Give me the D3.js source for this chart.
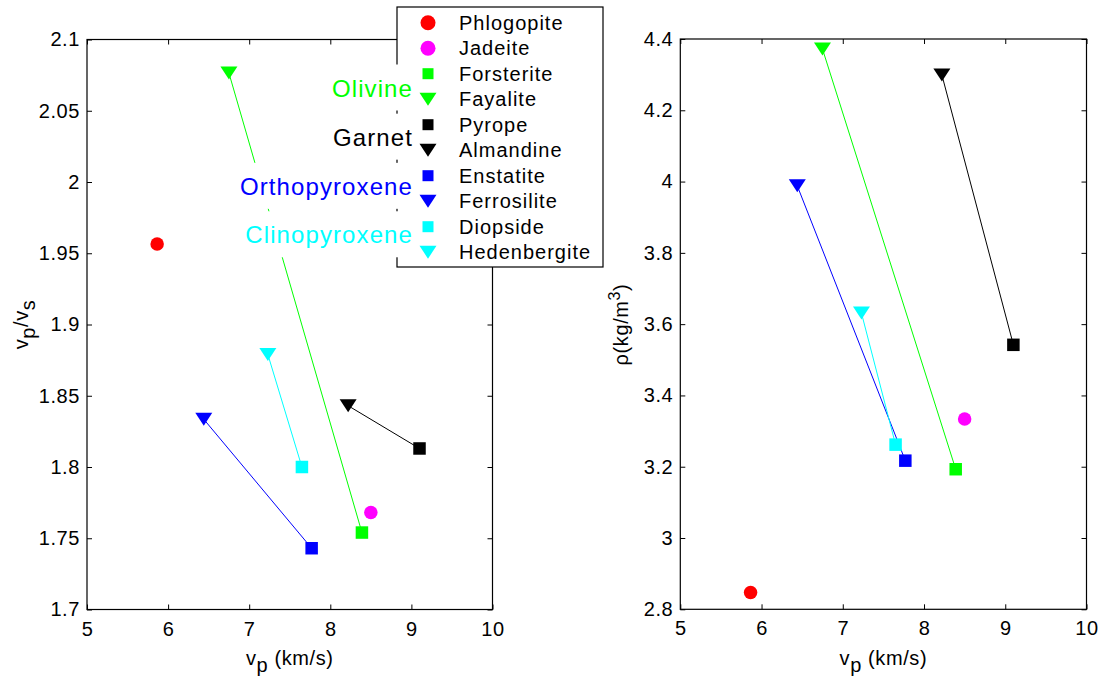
<!DOCTYPE html>
<html>
<head>
<meta charset="utf-8">
<script src="https://cdn.jsdelivr.net/npm/d3@7"></script>
<style>
  body { margin: 0; background: #fff; }
  text { font-family: "Liberation Sans", Arial, Helvetica, sans-serif; fill: #000; }
</style>
</head>
<body>
<div id="chart"></div>
<script>
// mineral data
var minerals = ["Phlogopite", "Jadeite", "Forsterite", "Fayalite", "Pyrope",
                "Almandine", "Enstatite", "Ferrosilite", "Diopside", "Hedenbergite"];
var vp   = [5.865, 8.50, 8.39, 6.75, 9.10, 8.22, 7.77, 6.44, 7.65, 7.23];
var vpvs = [1.9565, 1.768, 1.754, 2.0765, 1.813, 1.843, 1.743, 1.8335, 1.800, 1.879];
var rho  = [2.847, 3.334, 3.193, 4.372, 3.542, 4.299, 3.217, 3.988, 3.262, 3.631];
var colors = ["#ff0000", "#ff00ff", "#00ff00", "#00ff00", "#000000",
              "#000000", "#0000ff", "#0000ff", "#00ffff", "#00ffff"];
var shapes = ["circle", "circle", "square", "tri", "square",
              "tri", "square", "tri", "square", "tri"];

// mineral groups: end-member pairs joined by a line
var groups = ["Olivine", "Garnet", "Orthopyroxene", "Clinopyroxene"];
var groupPairs = [[2, 3], [4, 5], [6, 7], [8, 9]];
var groupColors = ["#00ff00", "#000000", "#0000ff", "#00ffff"];
var groupLabelX = 9.02;
var groupLabelY = [2.06, 2.0255, 1.991, 1.957];

var xTicks = [5, 6, 7, 8, 9, 10];
var xTickLabels = ["5", "6", "7", "8", "9", "10"];
var vpvsTicks = [1.7, 1.75, 1.8, 1.85, 1.9, 1.95, 2, 2.05, 2.1];
var vpvsTickLabels = ["1.7", "1.75", "1.8", "1.85", "1.9", "1.95", "2", "2.05", "2.1"];
var rhoTicks = [2.8, 3, 3.2, 3.4, 3.6, 3.8, 4, 4.2, 4.4];
var rhoTickLabels = ["2.8", "3", "3.2", "3.4", "3.6", "3.8", "4", "4.2", "4.4"];

var width = 1103, height = 679;

var svg = d3.select("#chart").append("svg")
  .attr("width", width)
  .attr("height", height);

svg.append("rect").attr("width", width).attr("height", height).attr("fill", "#fff");

function markerPath(shape, size) {
  if (shape === "square") {
    var h = size / 2;
    return "M" + (-h) + "," + (-h) + "H" + h + "V" + h + "H" + (-h) + "Z";
  }
  if (shape === "tri") {
    var w = size * 0.68, t = size * 0.52;
    return "M" + (-w) + "," + (-t) + "H" + w + "L0," + t + "Z";
  }
  return null;
}

function drawMarker(g, shape, color, cx, cy, size) {
  if (shape === "circle") {
    g.append("circle").attr("cx", cx).attr("cy", cy).attr("r", size / 2)
      .attr("fill", color);
  } else {
    g.append("path").attr("d", markerPath(shape, size))
      .attr("transform", "translate(" + cx + "," + cy + ")")
      .attr("fill", color);
  }
}

function drawPanel(box, yDomain, yTicks, yLabels, yValues) {
  var x = d3.scaleLinear().domain([5, 10]).range([box.left, box.right]);
  var y = d3.scaleLinear().domain(yDomain).range([box.bottom, box.top]);
  var g = svg.append("g");

  // bottom / left axes with labels, ticks pointing inwards
  var ax = g.append("g").attr("transform", "translate(0," + box.bottom + ")")
    .call(d3.axisBottom(x).tickValues(xTicks).tickFormat(function(d, i) { return xTickLabels[i]; })
      .tickSizeInner(-5).tickSizeOuter(0).tickPadding(12));
  var ay = g.append("g").attr("transform", "translate(" + box.left + ",0)")
    .call(d3.axisLeft(y).tickValues(yTicks).tickFormat(function(d, i) { return yLabels[i]; })
      .tickSizeInner(-5).tickSizeOuter(0).tickPadding(7));
  // mirrored ticks on top / right
  var at = g.append("g").attr("transform", "translate(0," + box.top + ")")
    .call(d3.axisTop(x).tickValues(xTicks).tickFormat("").tickSizeInner(-5).tickSizeOuter(0));
  var ar = g.append("g").attr("transform", "translate(" + box.right + ",0)")
    .call(d3.axisRight(y).tickValues(yTicks).tickFormat("").tickSizeInner(-5).tickSizeOuter(0));

  [ax, ay, at, ar].forEach(function(a) {
    a.select(".domain").remove();
    a.selectAll(".tick line").attr("stroke", "#000").attr("stroke-width", 1);
    a.selectAll("text").attr("font-size", 20).attr("letter-spacing", "0.6px")
      .attr("font-family", "'Liberation Sans', Arial, Helvetica, sans-serif").attr("fill", "#000");
  });

  g.append("rect")
    .attr("x", box.left).attr("y", box.top)
    .attr("width", box.right - box.left).attr("height", box.bottom - box.top)
    .attr("fill", "none").attr("stroke", "#000").attr("stroke-width", 1.2);

  // connecting lines
  groupPairs.forEach(function(p, k) {
    g.append("line")
      .attr("x1", x(vp[p[0]])).attr("y1", y(yValues[p[0]]))
      .attr("x2", x(vp[p[1]])).attr("y2", y(yValues[p[1]]))
      .attr("stroke", groupColors[k]).attr("stroke-width", 1);
  });

  // markers
  minerals.forEach(function(m, i) {
    var size = shapes[i] === "circle" ? 13.5 : 12.5;
    drawMarker(g, shapes[i], colors[i], x(vp[i]), y(yValues[i]), size);
  });

  // x label
  var xl = g.append("text")
    .attr("x", (box.left + box.right) / 2).attr("y", 665)
    .attr("text-anchor", "middle").attr("font-size", 20).attr("letter-spacing", "0.6px");
  xl.append("tspan").text("v");
  xl.append("tspan").attr("dy", 7).text("p");
  xl.append("tspan").attr("dy", -7).text(" (km/s)");

  return {x: x, y: y, g: g};
}

var left = drawPanel({left: 87, top: 39.5, right: 492.5, bottom: 609.5},
  [1.7, 2.1], vpvsTicks, vpvsTickLabels, vpvs);
var right = drawPanel({left: 680.3, top: 39, right: 1086.5, bottom: 609.3},
  [2.8, 4.4], rhoTicks, rhoTickLabels, rho);

// y labels
var yl1 = svg.append("text")
  .attr("transform", "translate(28,324.5) rotate(-90)")
  .attr("text-anchor", "middle").attr("font-size", 20).attr("letter-spacing", "0.6px");
yl1.append("tspan").text("v");
yl1.append("tspan").attr("dy", 7).text("p");
yl1.append("tspan").attr("dy", -7).text("/v");
yl1.append("tspan").attr("dy", 7).text("s");

var yl2 = svg.append("text")
  .attr("transform", "translate(628,324.5) rotate(-90)")
  .attr("text-anchor", "middle").attr("font-size", 20).attr("letter-spacing", "0.6px");
yl2.append("tspan").text("\u03c1(kg/m");
yl2.append("tspan").attr("dy", -8).attr("font-size", 16).text("3");
yl2.append("tspan").attr("dy", 8).text(")");

// legend, drawn inside the left axes
var legend = svg.append("g").attr("transform", "translate(397,7)");
legend.append("rect")
  .attr("width", 206).attr("height", 260)
  .attr("fill", "#fff").attr("stroke", "#000").attr("stroke-width", 1.2);
minerals.forEach(function(m, i) {
  var cy = 15.7 + i * 25.5;
  var size = shapes[i] === "circle" ? 15 : shapes[i] === "square" ? 11 : 12.5;
  drawMarker(legend, shapes[i], colors[i], 31, cy, size);
  legend.append("text")
    .attr("x", 62).attr("y", cy + 6.8)
    .attr("font-size", 20).attr("letter-spacing", "1px")
    .text(m);
});

// group labels with white backgrounds
groups.forEach(function(name, k) {
  var gx = left.x(groupLabelX), gy = left.y(groupLabelY[k]);
  var bg = svg.append("rect").attr("fill", "#fff");
  var t = svg.append("text")
    .attr("x", gx).attr("y", gy)
    .attr("text-anchor", "end").attr("font-size", 24).attr("letter-spacing", "1.1px")
    .style("fill", groupColors[k])
    .text(name);
  var w = t.node().getComputedTextLength();
  bg.attr("x", gx - w - 4).attr("y", gy - 32).attr("width", w + 7).attr("height", 46);
});
</script>
</body>
</html>
